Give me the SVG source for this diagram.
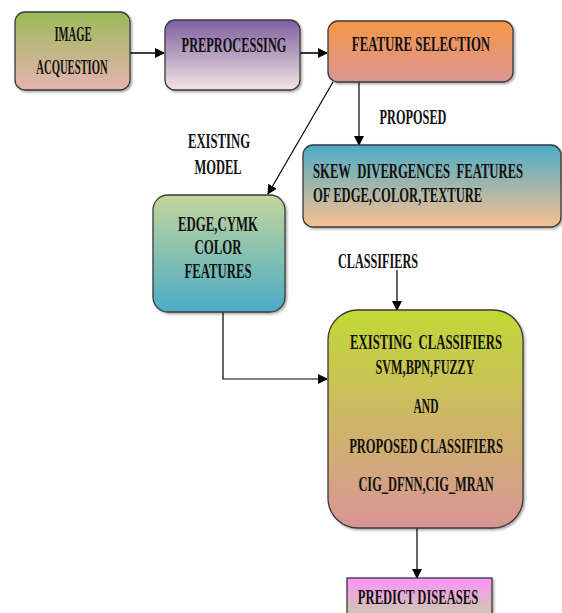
<svg xmlns="http://www.w3.org/2000/svg" width="562" height="613" viewBox="0 0 562 613">
<defs>
<linearGradient id="gImg" x1="0" y1="0" x2="0" y2="1"><stop offset="0" stop-color="#9bbb59"/><stop offset="1" stop-color="#e6b3b0"/></linearGradient>
<linearGradient id="gPre" x1="0" y1="0" x2="0" y2="1"><stop offset="0" stop-color="#7d5fa0"/><stop offset="1" stop-color="#f4e4e4"/></linearGradient>
<linearGradient id="gFea" x1="0" y1="0" x2="0" y2="1"><stop offset="0" stop-color="#f79646"/><stop offset="1" stop-color="#da9694"/></linearGradient>
<linearGradient id="gSkew" x1="0" y1="0" x2="0" y2="1"><stop offset="0" stop-color="#4bacc6"/><stop offset="1" stop-color="#fac090"/></linearGradient>
<linearGradient id="gEdge" x1="0" y1="0" x2="0" y2="1"><stop offset="0" stop-color="#c3d69b"/><stop offset="1" stop-color="#4bacc6"/></linearGradient>
<linearGradient id="gCls" x1="0" y1="0" x2="0" y2="1"><stop offset="0" stop-color="#c2d936"/><stop offset="1" stop-color="#d99594"/></linearGradient>
<linearGradient id="gPred" x1="0" y1="0" x2="0" y2="1"><stop offset="0" stop-color="#fd93fb"/><stop offset="1" stop-color="#c3d69b"/></linearGradient>
<filter id="sh" x="-10%" y="-10%" width="130%" height="130%"><feDropShadow dx="1.5" dy="1.5" stdDeviation="1" flood-color="#000" flood-opacity="0.35"/></filter>
<marker id="ah" markerWidth="10" markerHeight="10" refX="9" refY="5" orient="auto" markerUnits="userSpaceOnUse"><path d="M0,0 L10,5 L0,10 Z" fill="#000"/></marker>
</defs>
<style>
.box{stroke:#3a3a3a;stroke-width:1.3;filter:url(#sh)}
text{font-family:"Liberation Serif","Times New Roman",serif;font-size:20px;font-weight:bold;fill:#111}
.c{text-anchor:middle}
.ln{stroke:#000;stroke-width:1.2;fill:none}
.lnb{stroke:#000;stroke-width:1.6;fill:none}
</style>
<g id="connectors">
<line class="lnb" x1="130" y1="53" x2="164" y2="53" marker-end="url(#ah)"/>
<line class="lnb" x1="300" y1="53" x2="327" y2="53" marker-end="url(#ah)"/>
<line class="ln" x1="359" y1="82" x2="359" y2="145" marker-end="url(#ah)"/>
<line class="ln" x1="333" y1="82" x2="268" y2="194" marker-end="url(#ah)"/>
<polyline class="ln" points="223,312 223,379 327,379" marker-end="url(#ah)"/>
<line class="ln" x1="397" y1="270" x2="397" y2="310" marker-end="url(#ah)"/>
<line class="ln" x1="417" y1="528" x2="417" y2="578" marker-end="url(#ah)"/>
</g>
<g id="image-acquestion">
<rect class="box" x="15" y="12" width="115" height="78" rx="10" fill="url(#gImg)"/>
<text class="c" transform="translate(73,41) scale(0.62,1)" textLength="60" lengthAdjust="spacingAndGlyphs">IMAGE</text>
<text class="c" transform="translate(72,74) scale(0.62,1)" textLength="115" lengthAdjust="spacingAndGlyphs">ACQUESTION</text>
</g>
<g id="preprocessing">
<rect class="box" x="165" y="20" width="135" height="70" rx="10" fill="url(#gPre)"/>
<text class="c" transform="translate(234,52) scale(0.62,1)" textLength="169" lengthAdjust="spacingAndGlyphs">PREPROCESSING</text>
</g>
<g id="feature-selection">
<rect class="box" x="328" y="21" width="185" height="61" rx="10" fill="url(#gFea)"/>
<text class="c" transform="translate(421,51) scale(0.62,1)" textLength="223" lengthAdjust="spacingAndGlyphs">FEATURE SELECTION</text>
</g>
<g id="label-proposed">
<text class="c" transform="translate(413,124) scale(0.62,1)" textLength="108" lengthAdjust="spacingAndGlyphs">PROPOSED</text>
</g>
<g id="skew-features">
<rect class="box" x="303" y="145" width="258" height="82" rx="10" fill="url(#gSkew)"/>
<text transform="translate(313,178) scale(0.62,1)" textLength="339" lengthAdjust="spacingAndGlyphs" xml:space="preserve">SKEW  DIVERGENCES  FEATURES</text>
<text transform="translate(313,202) scale(0.62,1)" textLength="273" lengthAdjust="spacingAndGlyphs">OF EDGE,COLOR,TEXTURE</text>
</g>
<g id="label-existing-model">
<text class="c" transform="translate(219,148) scale(0.62,1)" textLength="100" lengthAdjust="spacingAndGlyphs">EXISTING</text>
<text class="c" transform="translate(218,174) scale(0.62,1)" textLength="76" lengthAdjust="spacingAndGlyphs">MODEL</text>
</g>
<g id="edge-cymk">
<rect class="box" x="153" y="195" width="132" height="117" rx="15" fill="url(#gEdge)"/>
<text class="c" transform="translate(218,231) scale(0.62,1)" textLength="129" lengthAdjust="spacingAndGlyphs">EDGE,CYMK</text>
<text class="c" transform="translate(218,254) scale(0.62,1)" textLength="76" lengthAdjust="spacingAndGlyphs">COLOR</text>
<text class="c" transform="translate(218,278) scale(0.62,1)" textLength="108" lengthAdjust="spacingAndGlyphs">FEATURES</text>
</g>
<g id="label-classifiers">
<text class="c" transform="translate(378,268) scale(0.62,1)" textLength="129" lengthAdjust="spacingAndGlyphs">CLASSIFIERS</text>
</g>
<g id="classifiers">
<rect class="box" x="328" y="310" width="195" height="218" rx="30" fill="url(#gCls)"/>
<text class="c" transform="translate(426,349) scale(0.62,1)" textLength="245" lengthAdjust="spacingAndGlyphs" xml:space="preserve">EXISTING  CLASSIFIERS</text>
<text class="c" transform="translate(425,374) scale(0.62,1)" textLength="160" lengthAdjust="spacingAndGlyphs">SVM,BPN,FUZZY</text>
<text class="c" transform="translate(426,413) scale(0.62,1)" textLength="40" lengthAdjust="spacingAndGlyphs">AND</text>
<text class="c" transform="translate(426,453) scale(0.62,1)" textLength="248" lengthAdjust="spacingAndGlyphs">PROPOSED CLASSIFIERS</text>
<text class="c" transform="translate(426,491) scale(0.62,1)" textLength="218" lengthAdjust="spacingAndGlyphs">CIG_DFNN,CIG_MRAN</text>
</g>
<g id="predict-diseases">
<rect class="box" x="347" y="578" width="145" height="45" fill="url(#gPred)"/>
<text class="c" transform="translate(418,604) scale(0.62,1)" textLength="194" lengthAdjust="spacingAndGlyphs">PREDICT DISEASES</text>
</g>
</svg>
